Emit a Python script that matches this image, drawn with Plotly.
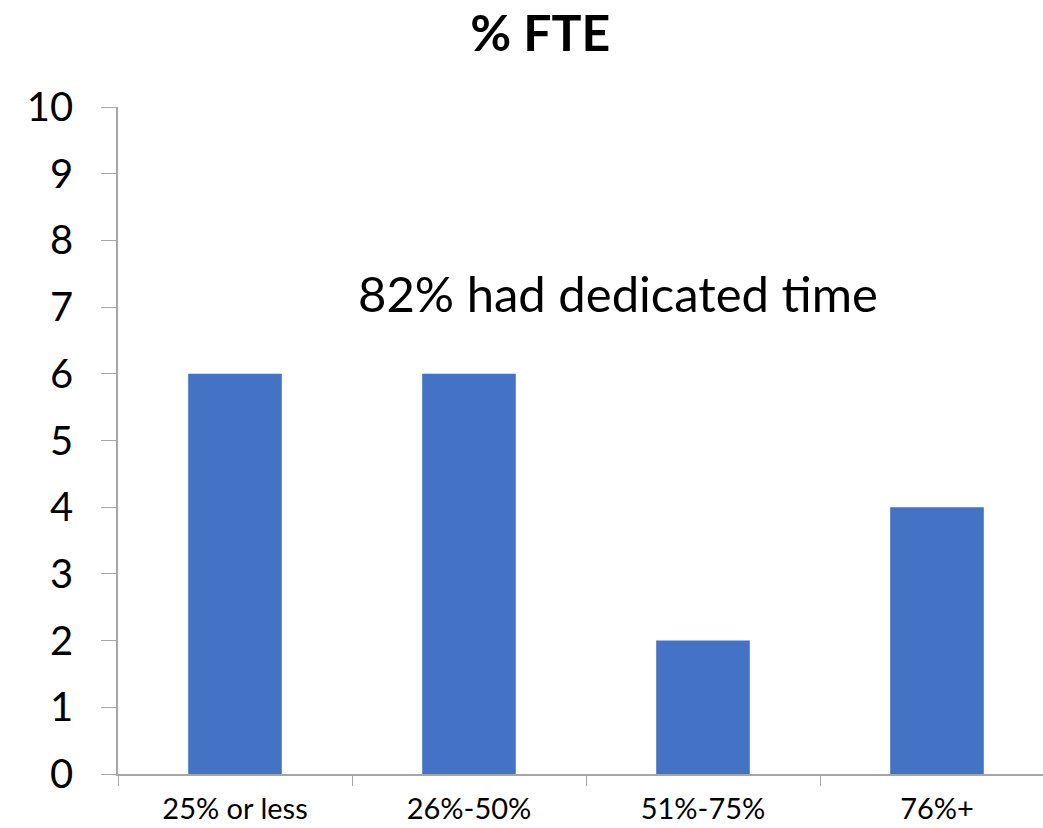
import plotly.graph_objects as go

categories = ["25% or less", "26%-50%", "51%-75%", "76%+"]
counts = [6, 6, 2, 4]
y_ticks = list(range(0, 11))

font_family = "Lato, 'Open Sans', sans-serif"
axis_color = "#a6a6a6"

fig = go.Figure(
    go.Bar(
        x=categories,
        y=counts,
        marker=dict(color="#4472C4", line=dict(width=0)),
        width=0.4,
    )
)

fig.update_layout(
    width=1043,
    height=828,
    paper_bgcolor="white",
    plot_bgcolor="white",
    margin=dict(l=118, r=0, t=107, b=54),
    showlegend=False,
    title=dict(
        text="<b>% FTE</b>",
        x=0.518,
        xanchor="center",
        y=0.96,
        yanchor="middle",
        font=dict(family=font_family, size=50, color="black"),
    ),
    annotations=[
        dict(
            text="82% had dedicated time",
            x=1.637,
            y=7.21,
            xref="x",
            yref="y",
            showarrow=False,
            font=dict(family=font_family, size=49, color="black"),
        )
    ],
)

fig.update_xaxes(
    type="category",
    range=[-0.5, 3.453],
    showline=True,
    linecolor=axis_color,
    linewidth=1.5,
    ticks="outside",
    tickson="boundaries",
    ticklen=10,
    tickcolor=axis_color,
    ticklabelstandoff=8,
    showgrid=False,
    tickfont=dict(family=font_family, size=29, color="black"),
)

fig.update_yaxes(
    range=[0, 10],
    tickvals=y_ticks,
    showline=True,
    linecolor=axis_color,
    linewidth=1.5,
    ticks="outside",
    ticklen=15,
    tickcolor=axis_color,
    ticklabelstandoff=20,
    showgrid=False,
    zeroline=False,
    tickfont=dict(family=font_family, size=40, color="black"),
)

fig.write_html("out.html")
